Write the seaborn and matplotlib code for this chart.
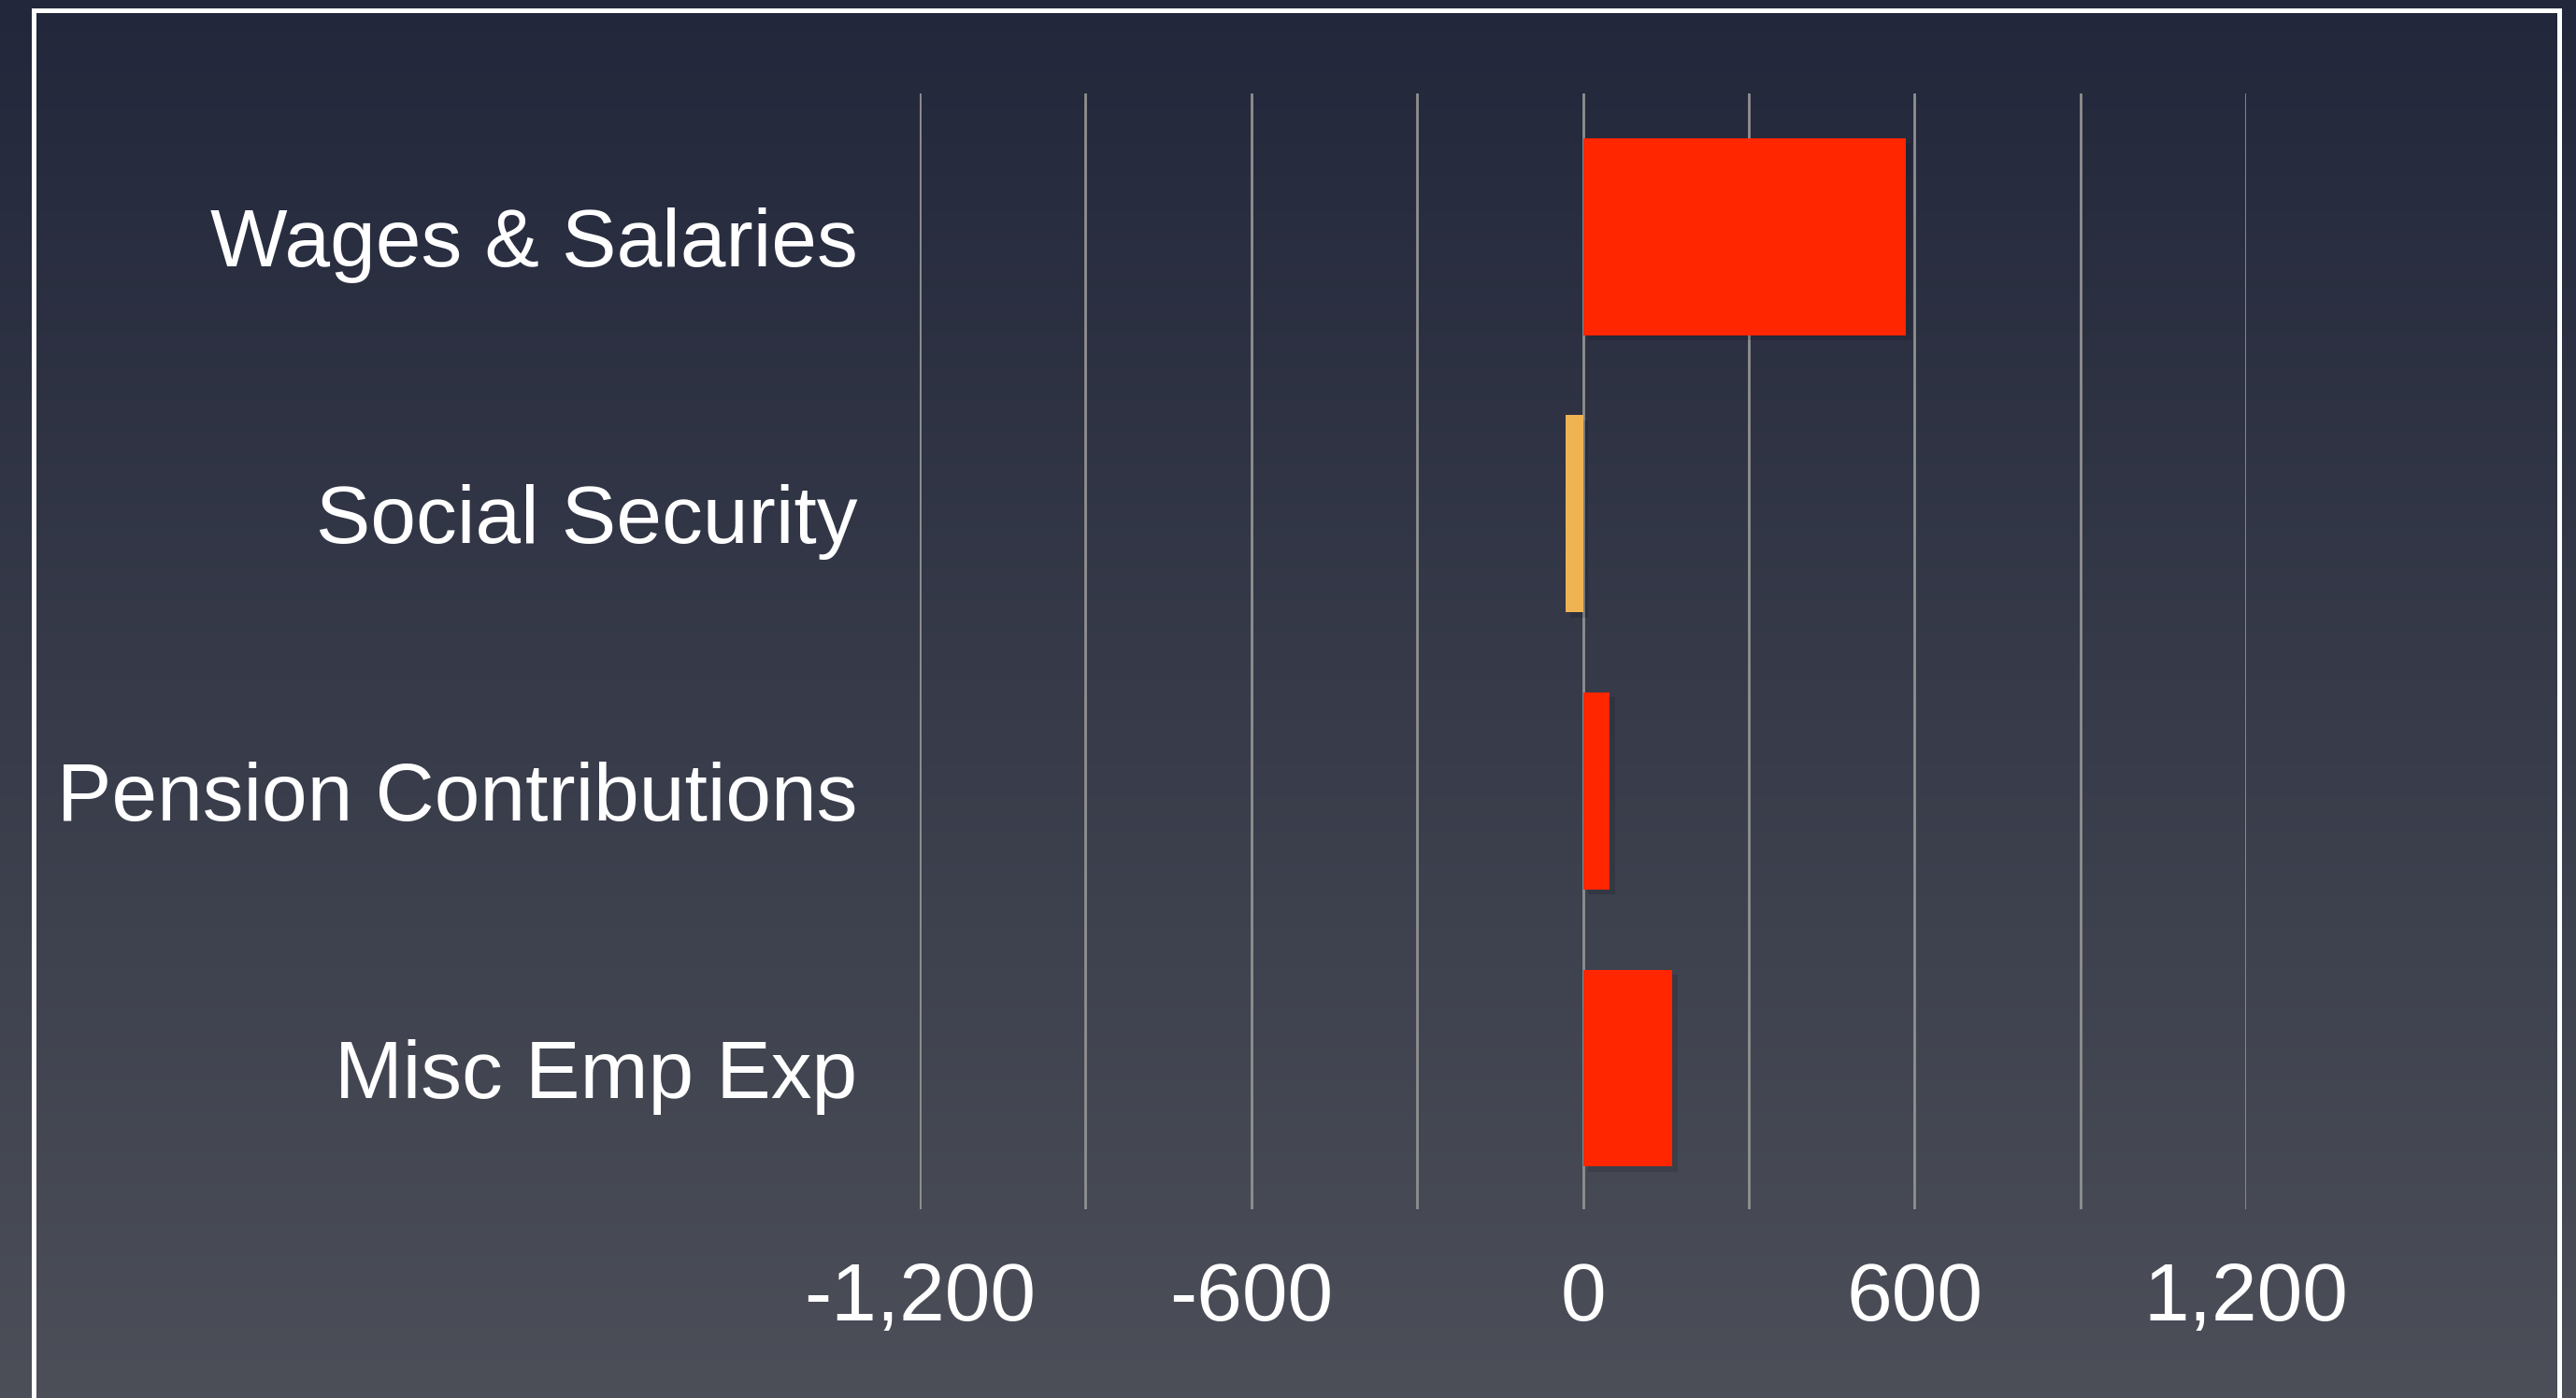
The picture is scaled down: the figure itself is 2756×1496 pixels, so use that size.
import numpy as np
import pandas as pd
import matplotlib
matplotlib.use("Agg")
import matplotlib.pyplot as plt
import matplotlib.patheffects as pe
from matplotlib.patches import Rectangle
import seaborn as sns

# Data
categories = ["Wages & Salaries", "Social Security", "Pension Contributions", "Misc Emp Exp"]
values = [585, -32, 49, 162]
bar_colors = ["#ff2600", "#f0b354", "#ff2600", "#ff2600"]
x_ticks = [-1200, -600, 0, 600, 1200]

sns.set_theme(style="white")
plt.rcParams['font.family'] = ['Liberation Sans', 'DejaVu Sans']

W, H, DPI = 2756, 1496, 200
fig = plt.figure(figsize=(W / DPI, H / DPI), dpi=DPI)

# Background gradient
bg = fig.add_axes([0, 0, 1, 1], zorder=-10)
top = np.array([34, 39, 59]) / 255.0
bot = np.array([76, 79, 88]) / 255.0
t = np.linspace(0, 1, 256)[:, None]
grad = (top[None, :] * (1 - t) + bot[None, :] * t)[:, None, :]
bg.imshow(grad, aspect="auto", extent=[0, 1, 0, 1], origin="upper")
bg.set_axis_off()

# White frame
fig.patches.append(Rectangle((35.5 / W, -0.05), (2738 - 35.5) / W, 1.05 - 11.5 / H,
                             transform=fig.transFigure, fill=False,
                             edgecolor="white", linewidth=1.8, zorder=5))

ax = fig.add_axes([984 / W, 1 - 1294 / H, (2403 - 984) / W, (1294 - 100) / H])
ax.patch.set_alpha(0)

df = pd.DataFrame({"category": categories, "value": values})
sns.barplot(data=df, x="value", y="category", hue="category", palette=bar_colors,
            orient="h", width=0.711, legend=False, ax=ax, saturation=1, zorder=3)

for p in ax.patches:
    p.set_linewidth(0)
    p.set_path_effects([pe.SimplePatchShadow(offset=(2.0, -2.0), shadow_rgbFace="black", alpha=0.12),
                        pe.Normal()])

ax.set_xlim(-1200, 1200)
ax.set_ylim(3.509, -0.516)
ax.set_xticks(np.arange(-1200, 1201, 300))
ax.set_xticklabels(["{:,}".format(v) if v in x_ticks else "" for v in np.arange(-1200, 1201, 300)])
ax.grid(axis="x", color="#909090", linewidth=1.0, zorder=0)
ax.grid(axis="y", visible=False)
ax.set_axisbelow(True)
for s in ax.spines.values():
    s.set_visible(False)

ax.tick_params(axis="x", length=0, pad=20, labelsize=31.5, labelcolor="white")
ax.tick_params(axis="y", length=0, pad=24, labelsize=31.5, labelcolor="white")
ax.set_xlabel("")
ax.set_ylabel("")

fig.savefig("out.png", dpi=DPI)
